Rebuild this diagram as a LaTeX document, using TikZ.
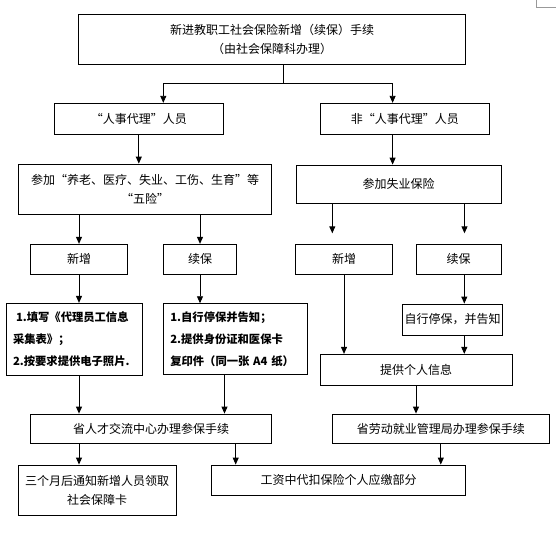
\documentclass[tikz,border=0pt]{standalone}
\usepackage{fontspec}
\setmainfont{Noto Sans CJK SC}
\usetikzlibrary{arrows.meta, positioning, calc}
\tikzset{
    box/.style={
        rectangle, draw=black, line width=0.9pt,
        inner sep=2pt, align=center,
        font=\fontsize{12}{19}\selectfont
    },
    notebox/.style={
        box, align=left, inner xsep=7pt,
        font=\fontsize{11.3}{22}\selectfont\bfseries
    },
    arrow/.style={-{Triangle[width=6pt,length=7pt]}, line width=0.9pt, draw=black},
    link/.style={line width=0.9pt, draw=black}
}

\begin{document}
\begin{tikzpicture}[x=1pt, y=-1pt]
    \useasboundingbox (0,0) rectangle (556,532);
    \draw[black!40, line width=0.8pt] (536,0) -- (536,7) -- (556,7);

    % top
    \node[box, minimum width=386.5pt, minimum height=50pt] (top) at (272,39.3)
        {新进教职工社会保险新增（续保）手续\\（由社会保障科办理）};
    \node[box, minimum width=169pt, minimum height=31pt] (rs) at (138.8,118.8) {“人事代理”人员};
    \node[box, minimum width=169pt, minimum height=31pt] (fr) at (404.8,118.8) {非“人事代理”人员};

    % insurance
    \node[box, minimum width=253.4pt, minimum height=50.3pt] (wx) at (145,189.2)
        {参加“养老、医疗、失业、工伤、生育”等\\“五险”};
    \node[box, minimum width=205pt, minimum height=38.3pt] (sy) at (398.5,184.2) {参加失业保险};

    \node[box, minimum width=96.6pt, minimum height=30pt] (xz1) at (79,259.3) {新增};
    \node[box, minimum width=73.4pt, minimum height=30pt] (xb1) at (200,259.3) {续保};
    \node[box, minimum width=96.6pt, minimum height=30pt] (xz2) at (344,259.3) {新增};
    \node[box, minimum width=84.7pt, minimum height=30pt] (xb2) at (458.7,259.3) {续保};

    % paperwork
    \node[notebox, text width=122.7pt, minimum height=71.7pt] (tx) at (74.4,339.2)
        {\hspace{3pt}1.填写《代理员工信息\\采集表》；\\2.按要求提供电子照片.};
    \node[notebox, text width=130.4pt, minimum height=71pt] (tb) at (235.5,339.2)
        {1.自行停保并告知；\\2.提供身份证和医保卡\\复印件（同一张~A4~纸）};
    \node[box, minimum width=96.7pt, minimum height=31pt] (zt) at (452.7,319.5) {自行停保，并告知};
    \node[box, minimum width=192pt, minimum height=30.7pt] (info) at (416,369.7) {提供个人信息};

    % offices
    \node[box, minimum width=241pt, minimum height=29.3pt] (rc) at (151.2,428.7) {省人才交流中心办理参保手续};
    \node[box, minimum width=217pt, minimum height=29.3pt] (ld) at (440.8,428.7) {省劳动就业管理局办理参保手续};
    \node[box, minimum width=157.7pt, minimum height=50pt] (sg) at (97.2,490)
        {三个月后通知新增人员领取\\社会保障卡};
    \node[box, minimum width=254pt, minimum height=30pt] (gz) at (338.7,480) {工资中代扣保险个人应缴部分};

    \coordinate (sya) at (332.3,233.3);
    \coordinate (syb) at (464.5,233.3);

    \draw[link] (top.south -| 283.7,0) -- ++(0,19) coordinate (tj);
    \draw[arrow] (tj) -| (rs.north -| 163.3,0);
    \draw[arrow] (tj) -| (fr.north -| 392.6,0);
    \draw[arrow] (rs.south) -- (rs.south |- wx.north);
    \draw[arrow] (fr.south -| 392.6,0) -- (sy.north -| 392.6,0);

    \draw[arrow] (wx.south -| xz1.north) -- (xz1.north);
    \draw[arrow] (wx.south -| xb1.north) -- (xb1.north);
    \draw[arrow] (sy.south -| sya) -- (sya);
    \draw[arrow] (sy.south -| syb) -- (syb);

    \draw[arrow] (xz1.south) -- (xz1.south |- tx.north);
    \draw[arrow] (xb1.south) -- (xb1.south |- tb.north);
    \draw[arrow] (xz2.south) -- (xz2.south |- info.north);
    \draw[arrow] (xb2.south -| 464.3,0) -- (zt.north -| 464.3,0);
    \draw[arrow] (zt.south -| 464.3,0) -- (info.north -| 464.3,0);

    \draw[arrow] (tx.south -| 79,0) -- (rc.north -| 79,0);
    \draw[arrow] (tb.south -| 224.5,0) -- (rc.north -| 224.5,0);
    \draw[arrow] (info.south) -- (info.south |- ld.north);

    \draw[arrow] (rc.south -| 79,0) -- (sg.north -| 79,0);
    \draw[arrow] (rc.south -| 235.7,0) -- (gz.north -| 235.7,0);
    \draw[arrow] (ld.south) -- (ld.south |- gz.north);
\end{tikzpicture}
\end{document}
